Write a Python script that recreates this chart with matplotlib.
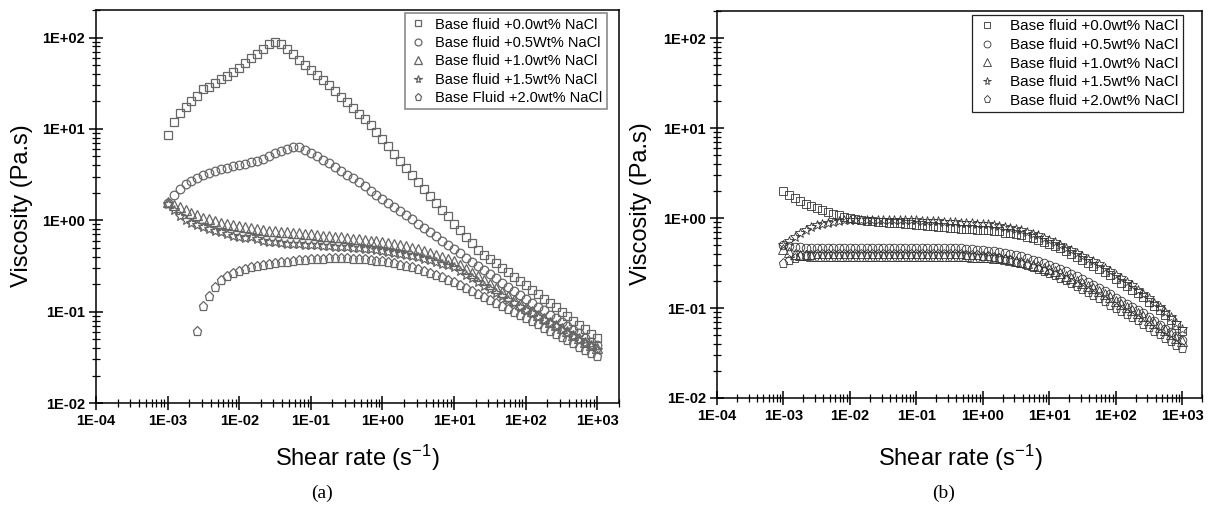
import matplotlib
matplotlib.use("Agg")
import matplotlib.pyplot as plt
from matplotlib.ticker import LogLocator, FuncFormatter, NullFormatter
import numpy as np

plt.rcParams['font.family'] = ['Liberation Sans', 'DejaVu Sans']
plt.rcParams['mathtext.fontset'] = 'custom'
plt.rcParams['mathtext.rm'] = 'Liberation Sans'
plt.rcParams['mathtext.default'] = 'regular'

# shear rate grid (s^-1), 12 points per decade
shear_rate = [
    1.00e-3, 1.21e-3, 1.47e-3, 1.78e-3, 2.15e-3, 2.61e-3, 3.16e-3, 3.83e-3, 4.64e-3, 5.62e-3, 6.81e-3, 8.25e-3,
    1.00e-2, 1.21e-2, 1.47e-2, 1.78e-2, 2.15e-2, 2.61e-2, 3.16e-2, 3.83e-2, 4.64e-2, 5.62e-2, 6.81e-2, 8.25e-2,
    1.00e-1, 1.21e-1, 1.47e-1, 1.78e-1, 2.15e-1, 2.61e-1, 3.16e-1, 3.83e-1, 4.64e-1, 5.62e-1, 6.81e-1, 8.25e-1,
    1.00e0, 1.21e0, 1.47e0, 1.78e0, 2.15e0, 2.61e0, 3.16e0, 3.83e0, 4.64e0, 5.62e0, 6.81e0, 8.25e0,
    1.00e1, 1.21e1, 1.47e1, 1.78e1, 2.15e1, 2.61e1, 3.16e1, 3.83e1, 4.64e1, 5.62e1, 6.81e1, 8.25e1,
    1.00e2, 1.21e2, 1.47e2, 1.78e2, 2.15e2, 2.61e2, 3.16e2, 3.83e2, 4.64e2, 5.62e2, 6.81e2, 8.25e2,
    1.00e3,
]

# (a) viscosity, Pa.s
visc_a_00 = [
    8.5, 11.8, 14.8, 17.5, 20, 23, 27, 29, 32, 35, 38, 42,
    47, 53, 59, 66, 75, 84, 89, 85, 74, 66, 57, 50,
    44, 39, 34, 30, 26, 22.5, 19.5, 17, 14.7, 12.7, 10.9, 9.3,
    7.8, 6.5, 5.3, 4.4, 3.7, 3.1, 2.6, 2.2, 1.85, 1.55, 1.3, 1.1,
    0.92, 0.78, 0.66, 0.56, 0.47, 0.42, 0.377, 0.337, 0.302, 0.27, 0.242, 0.217,
    0.194, 0.174, 0.155, 0.139, 0.125, 0.112, 0.1, 0.09, 0.08, 0.072, 0.064, 0.057,
    0.051,
]
visc_a_05 = [
    1.55, 1.9, 2.22, 2.5, 2.7, 2.9, 3.1, 3.3, 3.45, 3.6, 3.75, 3.9,
    4.0, 4.15, 4.35, 4.5, 4.7, 5.0, 5.4, 5.8, 6.1, 6.3, 6.3, 5.95,
    5.4, 5.0, 4.6, 4.2, 3.85, 3.5, 3.15, 2.9, 2.6, 2.35, 2.1, 1.9,
    1.72, 1.55, 1.4, 1.27, 1.14, 1.02, 0.92, 0.83, 0.74, 0.67, 0.6, 0.535,
    0.48, 0.433, 0.39, 0.351, 0.316, 0.285, 0.257, 0.231, 0.208, 0.188, 0.169, 0.152,
    0.137, 0.124, 0.113, 0.103, 0.093, 0.085, 0.077, 0.07, 0.063, 0.058, 0.052, 0.047,
    0.043,
]
visc_a_10 = [
    1.6, 1.48, 1.38, 1.28, 1.2, 1.13, 1.07, 1.02, 0.98, 0.94, 0.91, 0.88,
    0.86, 0.84, 0.82, 0.8, 0.785, 0.77, 0.76, 0.75, 0.74, 0.73, 0.72, 0.71,
    0.7, 0.69, 0.68, 0.67, 0.66, 0.65, 0.64, 0.63, 0.62, 0.61, 0.6, 0.59,
    0.58, 0.565, 0.55, 0.535, 0.52, 0.5, 0.48, 0.46, 0.44, 0.42, 0.4, 0.38,
    0.36, 0.326, 0.295, 0.268, 0.243, 0.22, 0.199, 0.18, 0.163, 0.148, 0.134, 0.121,
    0.11, 0.101, 0.093, 0.085, 0.078, 0.072, 0.066, 0.061, 0.056, 0.051, 0.047, 0.043,
    0.04,
]
visc_a_15 = [
    1.5, 1.28, 1.12, 1.0, 0.93, 0.88, 0.84, 0.8, 0.77, 0.74, 0.71, 0.68,
    0.66, 0.64, 0.66, 0.62, 0.6, 0.585, 0.575, 0.565, 0.555, 0.55, 0.545, 0.54,
    0.535, 0.53, 0.525, 0.52, 0.515, 0.51, 0.505, 0.5, 0.495, 0.49, 0.48, 0.47,
    0.46, 0.45, 0.44, 0.43, 0.42, 0.41, 0.395, 0.38, 0.365, 0.35, 0.335, 0.32,
    0.305, 0.28, 0.255, 0.232, 0.212, 0.193, 0.176, 0.161, 0.147, 0.135, 0.124, 0.113,
    0.104, 0.096, 0.088, 0.081, 0.075, 0.069, 0.063, 0.058, 0.054, 0.049, 0.045, 0.042,
    0.038,
]
# 2.0 wt% starts later (from the 6th shear rate)
visc_a_20 = [
    0.062, 0.115, 0.15, 0.185, 0.22, 0.245, 0.265,
    0.28, 0.295, 0.305, 0.315, 0.325, 0.333, 0.34, 0.347, 0.353, 0.359, 0.364, 0.369,
    0.373, 0.377, 0.38, 0.382, 0.383, 0.383, 0.382, 0.38, 0.377, 0.373, 0.368, 0.362,
    0.355, 0.347, 0.338, 0.328, 0.317, 0.305, 0.292, 0.279, 0.265, 0.251, 0.237, 0.223,
    0.21, 0.195, 0.18, 0.167, 0.155, 0.144, 0.133, 0.123, 0.114, 0.106, 0.098, 0.091,
    0.085, 0.0785, 0.0725, 0.067, 0.062, 0.057, 0.053, 0.049, 0.045, 0.0415, 0.0385, 0.0355,
    0.033,
]

# (b) viscosity, Pa.s
visc_b_00 = [
    2.0, 1.8, 1.65, 1.55, 1.45, 1.37, 1.3, 1.23, 1.17, 1.12, 1.07, 1.03,
    1.0, 0.97, 0.95, 0.93, 0.92, 0.91, 0.9, 0.89, 0.88, 0.87, 0.86, 0.85,
    0.84, 0.83, 0.82, 0.81, 0.8, 0.79, 0.78, 0.77, 0.76, 0.755, 0.75, 0.745,
    0.74, 0.73, 0.72, 0.71, 0.69, 0.675, 0.66, 0.64, 0.62, 0.595, 0.57, 0.545,
    0.52, 0.49, 0.46, 0.43, 0.4, 0.37, 0.345, 0.32, 0.295, 0.272, 0.25, 0.23,
    0.21, 0.192, 0.175, 0.16, 0.145, 0.131, 0.118, 0.106, 0.095, 0.084, 0.074, 0.064,
    0.055,
]
visc_b_05 = [
    0.5, 0.49, 0.48, 0.475, 0.47, 0.47, 0.47, 0.47, 0.47, 0.47, 0.47, 0.47,
    0.47, 0.47, 0.47, 0.47, 0.47, 0.47, 0.47, 0.47, 0.47, 0.47, 0.47, 0.47,
    0.47, 0.47, 0.47, 0.47, 0.47, 0.468, 0.466, 0.463, 0.46, 0.455, 0.45, 0.445,
    0.44, 0.435, 0.428, 0.42, 0.41, 0.4, 0.388, 0.375, 0.36, 0.345, 0.33, 0.315,
    0.3, 0.285, 0.27, 0.255, 0.24, 0.225, 0.21, 0.195, 0.18, 0.167, 0.154, 0.142,
    0.13, 0.12, 0.111, 0.103, 0.095, 0.087, 0.079, 0.072, 0.065, 0.059, 0.054, 0.049,
    0.044,
]
visc_b_10 = [
    0.45, 0.42, 0.4, 0.39, 0.385, 0.382, 0.38, 0.38, 0.38, 0.38, 0.38, 0.38,
    0.38, 0.38, 0.38, 0.38, 0.38, 0.38, 0.38, 0.38, 0.38, 0.38, 0.38, 0.38,
    0.38, 0.38, 0.38, 0.38, 0.38, 0.38, 0.38, 0.378, 0.377, 0.375, 0.373, 0.372,
    0.37, 0.366, 0.361, 0.356, 0.35, 0.342, 0.334, 0.325, 0.315, 0.304, 0.293, 0.282,
    0.27, 0.256, 0.242, 0.228, 0.215, 0.202, 0.189, 0.177, 0.165, 0.153, 0.142, 0.131,
    0.12, 0.111, 0.103, 0.095, 0.088, 0.081, 0.074, 0.068, 0.062, 0.057, 0.052, 0.047,
    0.043,
]
visc_b_15 = [
    0.5, 0.55, 0.62, 0.68, 0.74, 0.79, 0.83, 0.86, 0.89, 0.91, 0.93, 0.94,
    0.95, 0.955, 0.96, 0.96, 0.96, 0.96, 0.96, 0.955, 0.955, 0.95, 0.95, 0.945,
    0.94, 0.935, 0.93, 0.925, 0.92, 0.91, 0.9, 0.895, 0.885, 0.88, 0.87, 0.865,
    0.86, 0.85, 0.84, 0.82, 0.8, 0.78, 0.755, 0.73, 0.7, 0.67, 0.64, 0.605,
    0.57, 0.535, 0.5, 0.47, 0.44, 0.41, 0.38, 0.355, 0.33, 0.305, 0.28, 0.257,
    0.235, 0.215, 0.196, 0.178, 0.16, 0.144, 0.129, 0.115, 0.102, 0.09, 0.079, 0.068,
    0.058,
]
visc_b_20 = [
    0.32, 0.34, 0.36, 0.375, 0.385, 0.39, 0.395, 0.4, 0.4, 0.4, 0.4, 0.4,
    0.4, 0.4, 0.4, 0.4, 0.4, 0.4, 0.4, 0.4, 0.4, 0.4, 0.4, 0.4,
    0.4, 0.4, 0.4, 0.4, 0.4, 0.4, 0.4, 0.398, 0.395, 0.392, 0.389, 0.385,
    0.38, 0.374, 0.367, 0.359, 0.35, 0.34, 0.328, 0.315, 0.3, 0.287, 0.273, 0.259,
    0.245, 0.231, 0.217, 0.203, 0.19, 0.177, 0.164, 0.152, 0.14, 0.129, 0.119, 0.109,
    0.1, 0.093, 0.086, 0.079, 0.073, 0.067, 0.061, 0.056, 0.051, 0.047, 0.043, 0.039,
    0.036,
]

labels_a = ['Base fluid +0.0wt% NaCl', 'Base fluid +0.5Wt% NaCl', 'Base fluid +1.0wt% NaCl',
            'Base fluid +1.5wt% NaCl', 'Base Fluid +2.0wt% NaCl']
labels_b = ['Base fluid +0.0wt% NaCl', 'Base fluid +0.5wt% NaCl', 'Base fluid +1.0wt% NaCl',
            'Base fluid +1.5wt% NaCl', 'Base fluid +2.0wt% NaCl']
markers = ['s', 'o', '^', '*', 'p']
sizes = [5.8, 6.2, 6.6, 7.2, 6.6]

fig = plt.figure(figsize=(12.1, 5.07), dpi=100)
ax_a = fig.add_axes([0.0793, 0.2051, 0.4322, 0.7751])
ax_b = fig.add_axes([0.5926, 0.2150, 0.4008, 0.7633])

series_a = [(shear_rate, visc_a_00), (shear_rate, visc_a_05), (shear_rate, visc_a_10),
            (shear_rate, visc_a_15), (shear_rate[5:], visc_a_20)]
series_b = [(shear_rate, visc_b_00), (shear_rate, visc_b_05), (shear_rate, visc_b_10),
            (shear_rate, visc_b_15), (shear_rate, visc_b_20)]

for (x, y), m, s, lab in zip(series_a, markers, sizes, labels_a):
    ax_a.plot(x, y, linestyle='none', marker=m, ms=s, mfc='none', mec='#666666', mew=0.9, label=lab)
for (x, y), m, s, lab in zip(series_b, markers, sizes, labels_b):
    ax_b.plot(x, y, linestyle='none', marker=m, ms=s, mfc='none', mec='#333333', mew=0.6, label=lab)


def fmt(v, pos):
    return '1E{:+03d}'.format(int(round(np.log10(v))))


for ax in (ax_a, ax_b):
    ax.set_xscale('log')
    ax.set_yscale('log')
    ax.set_xlim(1e-4, 2000)
    ax.set_ylim(1e-2, 200)
    for axis in (ax.xaxis, ax.yaxis):
        axis.set_major_locator(LogLocator(base=10, numticks=20))
        axis.set_minor_locator(LogLocator(base=10, subs=np.arange(2, 10), numticks=20))
        axis.set_major_formatter(FuncFormatter(fmt))
        axis.set_minor_formatter(NullFormatter())
    ax.tick_params(which='major', direction='inout', length=10, width=1.1, top=False, right=False,
                   labelsize=10.5, pad=3)
    ax.tick_params(which='minor', direction='inout', length=6, width=0.9, top=False, right=False)
    for lbl in ax.get_xticklabels() + ax.get_yticklabels():
        lbl.set_fontweight('bold')
    for sp in ax.spines.values():
        sp.set_linewidth(1.1)

leg_a = ax_a.legend(loc='upper right', bbox_to_anchor=(0.977, 0.992), borderaxespad=0,
                    fontsize=10.5, fancybox=False, framealpha=1, edgecolor='#8a8a8a',
                    labelspacing=0.3, handletextpad=0.6, handlelength=1.2, markerscale=0.8,
                    borderpad=0.3)
leg_a.get_frame().set_linewidth(1.2)
leg_b = ax_b.legend(loc='upper right', bbox_to_anchor=(0.961, 0.99), borderaxespad=0,
                    fontsize=11, fancybox=False, framealpha=1, edgecolor='#222222',
                    labelspacing=0.3, handletextpad=0.8, handlelength=1.4, markerscale=0.8,
                    borderpad=0.3)
leg_b.get_frame().set_linewidth(0.9)

fig.text(22 / 1210, 1 - 206 / 507, 'Viscosity (Pa.s)', rotation=90, ha='center', va='center', fontsize=17)
fig.text(641 / 1210, 1 - 204 / 507, 'Viscosity (Pa.s)', rotation=90, ha='center', va='center', fontsize=17)
fig.text(357 / 1210, 1 - 458 / 507, 'Shear rate (s$^{-1}$)', ha='center', va='center', fontsize=17)
fig.text(960 / 1210, 1 - 458 / 507, 'Shear rate (s$^{-1}$)', ha='center', va='center', fontsize=17)
fig.text(322 / 1210, 1 - 493 / 507, '(a)', ha='center', va='center', fontsize=14, family='Liberation Serif')
fig.text(944 / 1210, 1 - 493 / 507, '(b)', ha='center', va='center', fontsize=14, family='Liberation Serif')

fig.savefig('out.png', dpi=100)
